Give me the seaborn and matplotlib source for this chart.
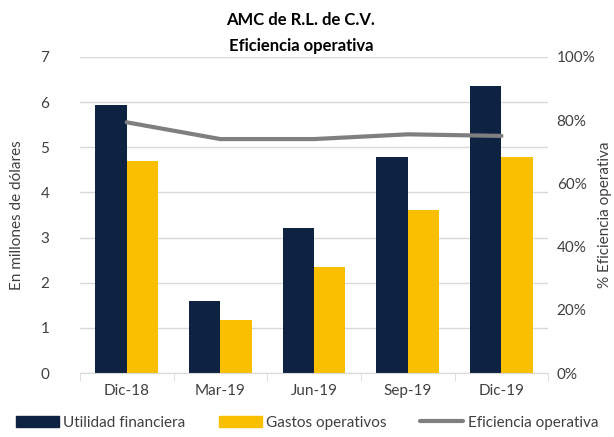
import pandas as pd
import seaborn as sns
import matplotlib.pyplot as plt
from matplotlib.patches import Patch
from matplotlib.lines import Line2D

# Data
periods = ["Dic-18", "Mar-19", "Jun-19", "Sep-19", "Dic-19"]
utilidad = [5.94, 1.60, 3.21, 4.78, 6.36]
gastos = [4.70, 1.17, 2.36, 3.60, 4.78]
eficiencia = [79.3, 74.0, 74.0, 75.5, 75.0]

navy = "#0E2241"
yellow = "#F9BF00"
gray = "#7F7F7F"

df = pd.DataFrame({"periodo": periods * 2,
                   "valor": utilidad + gastos,
                   "serie": ["Utilidad financiera"] * 5 + ["Gastos operativos"] * 5})

sns.set_style("white")
plt.rcParams['font.family'] = ['Lato', 'DejaVu Sans']

fig = plt.figure(figsize=(6.14, 4.37), dpi=100)
ax = fig.add_axes([0.13, 0.146, 0.763, 0.724])

sns.barplot(data=df, x="periodo", y="valor", hue="serie", order=periods,
            palette=[navy, yellow], width=0.67, saturation=1, legend=False,
            edgecolor="none", ax=ax)

ax.set_ylim(0, 7)
ax.set_xlim(-0.5, 4.5)
ax.set_yticks(range(0, 8))
ax.grid(axis="y", color="#D9D9D9", linewidth=1)
ax.set_axisbelow(True)
for s in ["top", "right", "left"]:
    ax.spines[s].set_visible(False)
ax.spines["bottom"].set_color("#D9D9D9")
ax.tick_params(axis="x", length=0, labelsize=11, pad=8, colors="#404040")
ax.tick_params(axis="y", length=0, labelsize=11, pad=22, colors="#404040")
ax.set_xticks([-0.5, 0.5, 1.5, 2.5, 3.5, 4.5], minor=True)
ax.tick_params(axis="x", which="minor", length=6, color="#D9D9D9", bottom=True)
ax.set_xlabel("")
ax.set_ylabel("En millones de dólares", fontsize=11, color="#404040", labelpad=12)

ax2 = ax.twinx()
sns.lineplot(x=periods, y=eficiencia, sort=False, color=gray, linewidth=3, ax=ax2)
ax2.set_ylim(0, 100)
ax2.set_yticks(range(0, 101, 20))
ax2.set_yticklabels([f"{v}%" for v in range(0, 101, 20)])
for s in ["top", "right", "left", "bottom"]:
    ax2.spines[s].set_visible(False)
ax2.tick_params(axis="y", length=0, labelsize=11, pad=6, colors="#404040")
ax2.set_ylabel("% Eficiencia operativa", fontsize=11, color="#404040", labelpad=2)
ax2.set_xlim(-0.5, 4.5)

fig.text(0.49, 0.955, "AMC de R.L. de C.V.", ha="center", va="center",
         fontsize=12, fontweight="bold", color="#000000")
fig.text(0.49, 0.895, "Eficiencia operativa", ha="center", va="center",
         fontsize=12, fontweight="bold", color="#000000")

handles = [Patch(color=navy), Patch(color=yellow), Line2D([], [], color=gray, linewidth=3)]
labels = ["Utilidad financiera", "Gastos operativos", "Eficiencia operativa"]
fig.legend(handles, labels, loc="lower center", ncol=3, frameon=False,
           bbox_to_anchor=(0.5, -0.015), fontsize=11, handlelength=2.8,
           handletextpad=0.3, columnspacing=2.2, labelcolor="#404040")

fig.savefig("out.png", dpi=100)
